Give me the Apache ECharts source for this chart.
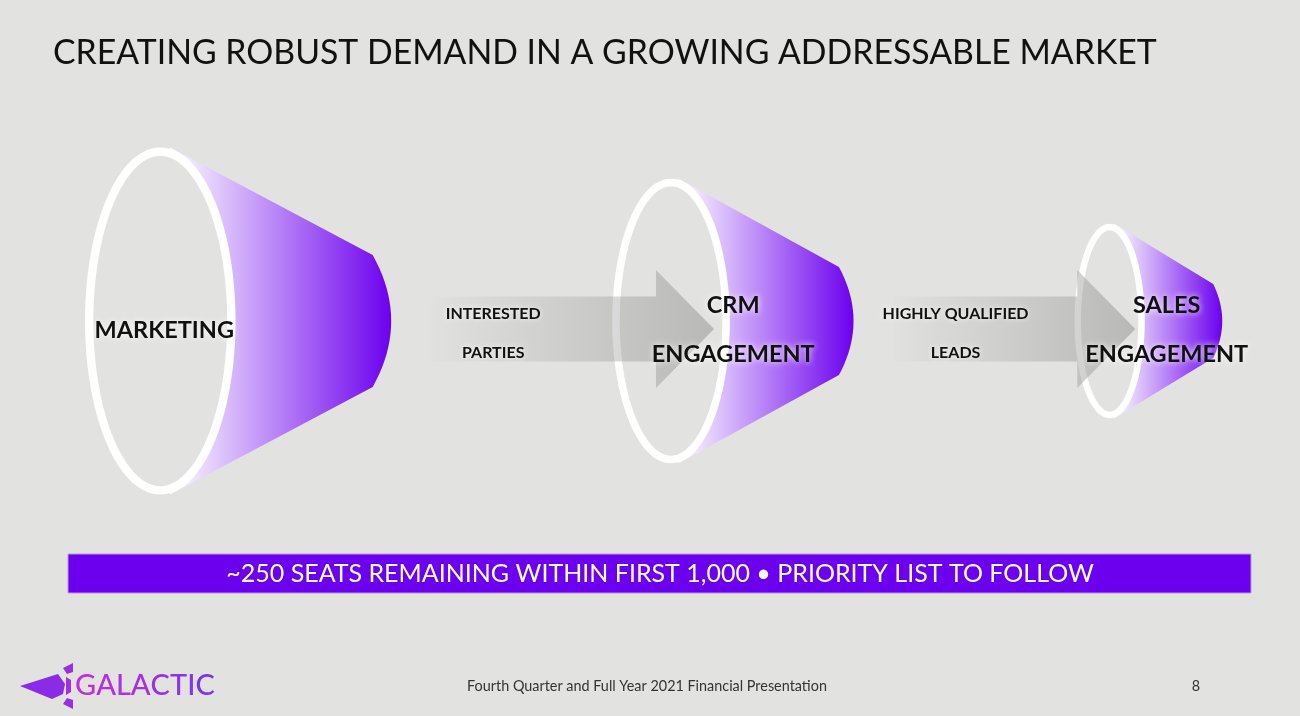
<!DOCTYPE html>
<html>
<head>
<meta charset="utf-8">
<script src="https://cdn.jsdelivr.net/npm/echarts@6/dist/echarts.min.js"></script>
<style>
  html, body { margin: 0; padding: 0; background: #e2e2e0; }
  #main { width: 1300px; height: 716px; }
</style>
</head>
<body>
<div id="main"></div>
<script>
// slide content
const stages = ['MARKETING', 'CRM\nENGAGEMENT', 'SALES\nENGAGEMENT'];
const stageReach = [100, 82, 56]; // relative funnel mouth size
const handoffs = ['INTERESTED\nPARTIES', 'HIGHLY QUALIFIED\nLEADS'];
const titleText = 'CREATING ROBUST DEMAND IN A GROWING ADDRESSABLE MARKET';
const bannerText = '~250 SEATS REMAINING WITHIN FIRST 1,000 \u2022 PRIORITY LIST TO FOLLOW';
const footerText = 'Fourth Quarter and Full Year 2021 Financial Presentation';
const pageNumber = '8';
const logoText = 'GALACTIC';

const BG = '#e2e2e0';
const PURPLE = '#6c00ee';
const FIRST_LEFT = 85;
const GAP = 221;

// funnel geometry, laid out left to right from the reach values
function layout(api) {
    const cy = api.coord([0, 0])[1];
    let left = api.coord([FIRST_LEFT, 0])[0];
    return stageReach.map(function (v) {
        const ry = api.size([0, v])[1];
        const rx = 0.526 * ry - 16;
        const body = 1.55 * ry - 38;
        const g = { cy: cy, ry: ry, rx: rx, body: body, left: left, cx: left + rx, tip: left + rx + body };
        left = g.tip + GAP;
        return g;
    });
}

function renderFunnel(params, api) {
    const g = layout(api)[params.dataIndex];
    const sx = g.cx + 0.13 * g.rx;
    const kx = g.tip - 0.08 * g.body;
    const ky = 0.38 * g.ry;
    const qx = 2 * g.tip - kx;
    const bodyPts = [[sx, g.cy - g.ry]];
    for (let i = 0; i <= 20; i++) {
        const t = i / 20;
        bodyPts.push([
            (1 - t) * (1 - t) * kx + 2 * (1 - t) * t * qx + t * t * kx,
            (1 - t) * (1 - t) * (g.cy - ky) + 2 * (1 - t) * t * g.cy + t * t * (g.cy + ky)
        ]);
    }
    bodyPts.push([sx, g.cy + g.ry]);

    const lw = 4 + 0.025 * g.ry;
    const ringPts = [];
    for (let i = 0; i < 120; i++) {
        const a = (i / 120) * Math.PI * 2;
        ringPts.push([g.cx + (g.rx - lw / 2) * Math.cos(a), g.cy + (g.ry - lw / 2) * Math.sin(a)]);
    }
    return {
        type: 'group',
        children: [
            {
                type: 'polygon',
                shape: { points: bodyPts },
                style: {
                    fill: new echarts.graphic.LinearGradient(0, 0, 1, 0, [
                        { offset: 0, color: '#ffffff' },
                        { offset: 1, color: PURPLE }
                    ])
                }
            },
            {
                type: 'polygon',
                shape: { points: ringPts },
                style: { fill: BG, stroke: '#ffffff', lineWidth: lw }
            }
        ]
    };
}

function renderHandoff(params, api) {
    const g = layout(api);
    const a = g[params.dataIndex];
    const b = g[params.dataIndex + 1];
    const x0 = a.tip + 40;
    const x1 = b.cx + 0.73 * b.rx;
    const ay = a.cy + 8;
    const sh = 32.5, hh = 59, hl = 58;
    return {
        type: 'group',
        children: [
            {
                type: 'polygon',
                shape: {
                    points: [
                        [x0, ay - sh], [x1 - hl, ay - sh], [x1 - hl, ay - hh], [x1, ay],
                        [x1 - hl, ay + hh], [x1 - hl, ay + sh], [x0, ay + sh]
                    ]
                },
                style: {
                    fill: new echarts.graphic.LinearGradient(0, 0, 1, 0, [
                        { offset: 0, color: 'rgba(150,150,150,0.02)' },
                        { offset: 1, color: 'rgba(150,150,150,0.55)' }
                    ])
                }
            },
            {
                type: 'text',
                style: {
                    text: handoffs[params.dataIndex],
                    x: b.left - 119,
                    y: a.cy + 12,
                    textAlign: 'center',
                    textVerticalAlign: 'middle',
                    lineHeight: 39,
                    fill: '#111',
                    font: 'bold 16px Lato',
                    textShadowColor: 'rgba(255,255,255,0.9)',
                    textShadowBlur: 5
                }
            }
        ]
    };
}

function renderStageLabel(params, api) {
    const g = layout(api)[params.dataIndex];
    return {
        type: 'text',
        style: {
            text: stages[params.dataIndex],
            x: params.dataIndex === 0 ? g.cx + 4 : g.left + 30 + 0.64 * g.ry,
            y: g.cy + 9,
            textAlign: 'center',
            textVerticalAlign: 'middle',
            lineHeight: 49,
            fill: '#111',
            font: 'bold 23.5px Lato',
            textShadowColor: 'rgba(255,255,255,0.95)',
            textShadowBlur: 6
        }
    };
}

const logoColors = ['#c22fdc', '#b72fe0', '#ad30e3', '#a331e6', '#9832e9', '#8e33ec', '#8434ef', '#7a35f2'];
const logoRich = {};
let logoStr = '';
logoText.split('').forEach(function (ch, i) {
    logoRich['c' + i] = { fill: logoColors[i], color: logoColors[i], font: '500 29px Lato' };
    logoStr += '{c' + i + '|' + ch + '}';
});

const chart = echarts.init(document.getElementById('main'));
chart.setOption({
    backgroundColor: BG,
    animation: false,
    title: {
        text: titleText,
        left: 48,
        top: 31,
        textStyle: { fontFamily: 'Lato', fontWeight: 'normal', fontSize: 33.8, color: '#111' }
    },
    grid: { left: 0, right: 0, top: 147.5, bottom: 221.5 },
    xAxis: { type: 'value', min: 0, max: 1300, show: false },
    yAxis: { type: 'value', min: -100, max: 100, show: false },
    series: [
        {
            name: 'funnels',
            type: 'custom',
            z: 2,
            clip: false,
            silent: true,
            renderItem: renderFunnel,
            data: stageReach.map(function (v, i) { return [i, v]; })
        },
        {
            name: 'handoffs',
            type: 'custom',
            z: 3,
            clip: false,
            silent: true,
            renderItem: renderHandoff,
            data: handoffs.map(function (h, i) { return [i]; })
        },
        {
            name: 'stageLabels',
            type: 'custom',
            z: 4,
            clip: false,
            silent: true,
            renderItem: renderStageLabel,
            data: stageReach.map(function (v, i) { return [i, v]; })
        }
    ],
    graphic: [
        {
            type: 'rect',
            shape: { x: 68, y: 554, width: 1183, height: 39 },
            style: { fill: PURPLE, stroke: '#b49be8', lineWidth: 1 }
        },
        {
            type: 'text',
            x: 660, y: 574,
            style: {
                text: bannerText, fill: '#ffffff', font: '25px Lato',
                textAlign: 'center', textVerticalAlign: 'middle'
            }
        },
        {
            type: 'text',
            x: 647, y: 686,
            style: {
                text: footerText, fill: '#333', font: '14.4px Lato',
                textAlign: 'center', textVerticalAlign: 'middle'
            }
        },
        {
            type: 'text',
            x: 1196, y: 686,
            style: {
                text: pageNumber, fill: '#333', font: '14.4px Lato',
                textAlign: 'center', textVerticalAlign: 'middle'
            }
        },
        // rocket mark
        {
            type: 'polygon',
            shape: { points: [[20, 686], [58, 674], [65, 684], [63, 694], [52, 699]] },
            style: { fill: '#8a2be6' }
        },
        {
            type: 'polygon',
            shape: { points: [[63, 668], [73, 663], [73, 672], [67, 674]] },
            style: { fill: '#9b2ee4' }
        },
        {
            type: 'polygon',
            shape: { points: [[63, 704], [73, 709], [73, 700], [67, 698]] },
            style: { fill: '#9b2ee4' }
        },
        {
            type: 'polygon',
            shape: { points: [[66, 677], [71, 680], [71, 692], [66, 695]] },
            style: { fill: '#a32fe2' }
        },
        {
            type: 'text',
            x: 75, y: 686,
            style: {
                text: logoStr, rich: logoRich, font: '500 29px Lato',
                textAlign: 'left', textVerticalAlign: 'middle'
            }
        }
    ]
});
window.addEventListener('resize', function () {
    chart.resize();
});
</script>
</body>
</html>
